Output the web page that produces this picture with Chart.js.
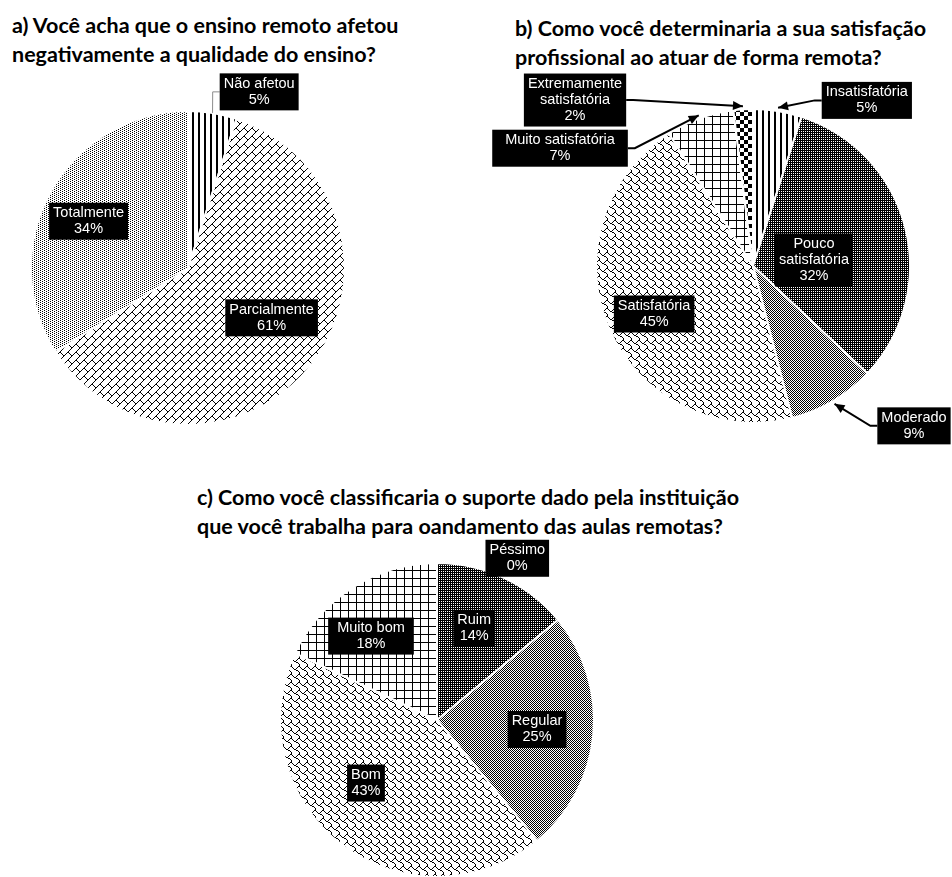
<!DOCTYPE html>
<html>
<head>
<meta charset="utf-8">
<script src="https://cdn.jsdelivr.net/npm/chart.js@4.4.1/dist/chart.umd.min.js"></script>
<style>
  html, body { margin: 0; padding: 0; background: #fff; width: 952px; height: 877px; overflow: hidden; }
  .titulo { position: absolute; font-family: Lato, sans-serif; font-weight: bold; font-size: 21.5px; line-height: 28.5px; color: #000; white-space: nowrap; }
  canvas { position: absolute; }
</style>
</head>
<body>
<div class="titulo" style="left:12px;top:11px">a) Você acha que o ensino remoto afetou<br>negativamente a qualidade do ensino?</div>
<div class="titulo" style="left:515px;top:14px">b) Como você determinaria a sua satisfação<br>profissional ao atuar de forma remota?</div>
<div class="titulo" style="left:197px;top:483px">c) Como você classificaria o suporte dado pela instituição<br>que você trabalha para oandamento das aulas remotas?</div>

<canvas id="graficoA" width="376" height="416" style="left:0;top:60px"></canvas>
<canvas id="graficoB" width="472" height="420" style="left:480px;top:60px"></canvas>
<canvas id="graficoC" width="514" height="347" style="left:180px;top:530px"></canvas>

<script>
// dados
const categoriasA = ['Não afetou', 'Parcialmente', 'Totalmente'];
const valoresA = [5, 61, 34];

const categoriasB = ['Insatisfatória', 'Pouco satisfatória', 'Moderado', 'Satisfatória', 'Muito satisfatória', 'Extremamente satisfatória'];
const valoresB = [5, 32, 9, 45, 7, 2];

const categoriasC = ['Péssimo', 'Ruim', 'Regular', 'Bom', 'Muito bom'];
const valoresC = [0, 14, 25, 43, 18];

// padrões de preenchimento (1 = preto)
function padrao(linhas) {
    var c = document.createElement('canvas');
    c.width = linhas[0].length;
    c.height = linhas.length;
    var g = c.getContext('2d');
    g.fillStyle = '#fff';
    g.fillRect(0, 0, c.width, c.height);
    g.fillStyle = '#000';
    linhas.forEach(function (l, r) {
        for (var k = 0; k < l.length; k++) {
            if (l[k] === '1') g.fillRect(k, r, 1, 1);
        }
    });
    return g.createPattern(c, 'repeat');
}

const listras = padrao(['110000']);
const tijolo = padrao(['00000001', '00000010', '00000100', '00001000', '00011000', '00100100', '01000010', '10000001']);
const pontos = padrao(['1000', '0010']);
const escuro = padrao(['11', '10']);
const cinza = padrao(['10', '01']);
const onda = padrao(['00000011', '10000100', '01001000', '00110000', '00001100', '00000010', '00000001', '00000001']);
const grade = padrao(['11111111', '10000000', '10000000', '10000000', '10000000', '10000000', '10000000', '10000000']);
const xadrez = padrao(['11110000', '11110000', '11110000', '11110000', '00001111', '00001111', '00001111', '00001111']);

// posição dos rótulos: f = fração do raio, d = desvio do ângulo (graus)
const rotulosA = [
    { f: 1.21, d: 13, guia: true },
    { f: 0.62, d: -7 },
    { f: 0.70, d: -3.6 }
];
const rotulosB = [
    { f: 1.28, d: 25.5, seta: true },
    { f: 0.39, d: 8.8, quebra: true },
    { f: 1.445, d: -14.6, seta: true },
    { f: 0.70, d: -2.5 },
    { f: 1.44, d: -38.8, seta: true, extra: 18 },
    { f: 1.55, d: -43.4, seta: true, quebra: true }
];
const rotulosC = [
    { f: 1.15, d: 26.4 },
    { f: 0.63, d: -3.1 },
    { f: 0.64, d: 0 },
    { f: 0.605, d: 10.6 },
    { f: 0.68, d: -5.8, extra: 10 }
];

const rotulosPlugin = {
    id: 'rotulos',
    afterDatasetsDraw(chart, args, opts) {
        var ctx = chart.ctx;
        var meta = chart.getDatasetMeta(0);
        var valores = chart.data.datasets[0].data;
        meta.data.forEach(function (arc, i) {
            var cfg = opts.layout[i];
            var p = arc.getProps(['x', 'y', 'startAngle', 'endAngle', 'outerRadius'], true);
            var meio = (p.startAngle + p.endAngle) / 2;
            var ang = meio + cfg.d * Math.PI / 180;
            var lx = p.x + Math.cos(ang) * cfg.f * p.outerRadius;
            var ly = p.y + Math.sin(ang) * cfg.f * p.outerRadius;
            var nome = chart.data.labels[i];
            var linhas = (cfg.quebra ? nome.split(' ') : [nome]).concat([valores[i] + '%']);

            ctx.save();
            ctx.font = '14.5px "Liberation Sans", Arial, sans-serif';
            var w = Math.max.apply(null, linhas.map(function (t) { return ctx.measureText(t).width; })) + 8 + (cfg.extra || 0);
            var h = linhas.length * 16 + 5;
            var bx = lx - w / 2, by = ly - h / 2;

            if (cfg.seta || cfg.guia) {
                var rr = p.outerRadius * (cfg.seta ? 1.02 : 1.0);
                var tx = p.x + Math.cos(meio) * rr;
                var ty = p.y + Math.sin(meio) * rr;
                var sx = tx > lx ? bx + w : bx;
                var mx = tx > lx ? sx + 7 : sx - 7;
                ctx.beginPath();
                ctx.moveTo(sx, ly);
                ctx.lineTo(mx, ly);
                ctx.lineTo(tx, ty);
                if (cfg.seta) {
                    ctx.strokeStyle = '#000';
                    ctx.lineWidth = 2;
                } else {
                    ctx.strokeStyle = '#8c8c8c';
                    ctx.lineWidth = 1;
                }
                ctx.stroke();
                if (cfg.seta) {
                    var a = Math.atan2(ty - ly, tx - mx);
                    ctx.beginPath();
                    ctx.moveTo(tx, ty);
                    ctx.lineTo(tx - 10 * Math.cos(a) + 4.5 * Math.sin(a), ty - 10 * Math.sin(a) - 4.5 * Math.cos(a));
                    ctx.lineTo(tx - 10 * Math.cos(a) - 4.5 * Math.sin(a), ty - 10 * Math.sin(a) + 4.5 * Math.cos(a));
                    ctx.closePath();
                    ctx.fillStyle = '#000';
                    ctx.fill();
                }
            }

            ctx.fillStyle = '#000';
            ctx.fillRect(bx, by, w, h);
            ctx.fillStyle = '#fff';
            ctx.textAlign = 'center';
            ctx.textBaseline = 'middle';
            linhas.forEach(function (t, k) {
                ctx.fillText(t, lx, by + 2.5 + 8 + k * 16);
            });
            ctx.restore();
        });
    }
};

function criarPizza(id, categorias, valores, cores, rotulos, raio, padding) {
    return new Chart(document.getElementById(id), {
        type: 'pie',
        data: {
            labels: categorias,
            datasets: [{
                data: valores,
                backgroundColor: cores,
                borderColor: '#fff',
                borderWidth: 2,
                hoverOffset: 0,
                radius: raio
            }]
        },
        options: {
            responsive: false,
            animation: false,
            events: [],
            layout: { padding: padding },
            plugins: {
                legend: { display: false },
                tooltip: { enabled: false },
                rotulos: { layout: rotulos }
            }
        },
        plugins: [rotulosPlugin]
    });
}

criarPizza('graficoA', categoriasA, valoresA, [listras, tijolo, pontos], rotulosA, 157, 0);
criarPizza('graficoB', categoriasB, valoresB, [listras, escuro, cinza, onda, grade, xadrez], rotulosB, 157, { left: 74, right: 0, top: 0, bottom: 8 });
criarPizza('graficoC', categoriasC, valoresC, [listras, escuro, cinza, onda, grade], rotulosC, 157, { left: 0, right: 0, top: 33, bottom: 0 });
</script>
</body>
</html>
